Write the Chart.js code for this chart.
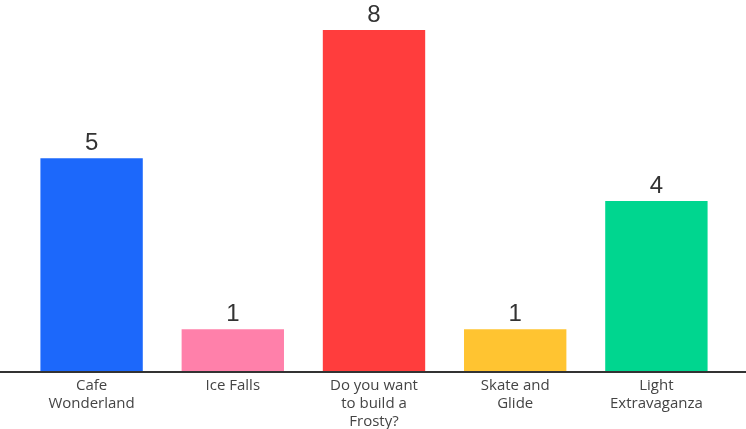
<!DOCTYPE html>
<html>
<head>
<meta charset="utf-8">
<script src="https://cdn.jsdelivr.net/npm/chart.js@4"></script>
<style>
  html, body { margin: 0; padding: 0; background: #fff; }
  #wrap { width: 746px; height: 429px; }
</style>
</head>
<body>
<div id="wrap"><canvas id="chart"></canvas></div>
<script>
const categories = [
    ["Cafe", "Wonderland"],
    ["Ice Falls"],
    ["Do you want", "to build a", "Frosty?"],
    ["Skate and", "Glide"],
    ["Light", "Extravaganza"]
];
const votes = [5, 1, 8, 1, 4];
const barColors = ["#1c68fb", "#ff80aa", "#ff3d3d", "#ffc431", "#00d68f"];

// value labels above the bars + full width baseline
const barLabels = {
    id: "barLabels",
    afterDatasetsDraw(chart) {
        let ctx = chart.ctx;
        let meta = chart.getDatasetMeta(0);
        ctx.save();
        ctx.fillStyle = "#333";
        ctx.font = "24px 'Liberation Sans', Arial, sans-serif";
        ctx.textAlign = "center";
        ctx.textBaseline = "alphabetic";
        meta.data.forEach((bar, i) => {
            ctx.fillText(String(votes[i]), bar.x, bar.y - 8);
        });
        let y0 = chart.scales.y.getPixelForValue(0);
        ctx.strokeStyle = "#333";
        ctx.lineWidth = 2;
        ctx.beginPath();
        ctx.moveTo(0, y0);
        ctx.lineTo(chart.width, y0);
        ctx.stroke();
        ctx.restore();
    }
};

new Chart(document.getElementById("chart"), {
    type: "bar",
    data: {
        labels: categories,
        datasets: [{
            data: votes,
            backgroundColor: barColors,
            categoryPercentage: 1,
            barPercentage: 0.725
        }]
    },
    options: {
        responsive: true,
        maintainAspectRatio: false,
        animation: false,
        layout: { padding: { left: 21, right: 19, top: 30, bottom: -7 } },
        plugins: { legend: { display: false }, tooltip: { enabled: false } },
        scales: {
            x: {
                grid: { display: false, drawTicks: false },
                border: { display: false },
                ticks: {
                    padding: 5,
                    color: "#444",
                    font: { family: "'Open Sans', sans-serif", size: 15, lineHeight: 1.2 },
                    maxRotation: 0,
                    autoSkip: false
                }
            },
            y: {
                display: false,
                min: 0,
                max: 8
            }
        }
    },
    plugins: [barLabels]
});
</script>
</body>
</html>
